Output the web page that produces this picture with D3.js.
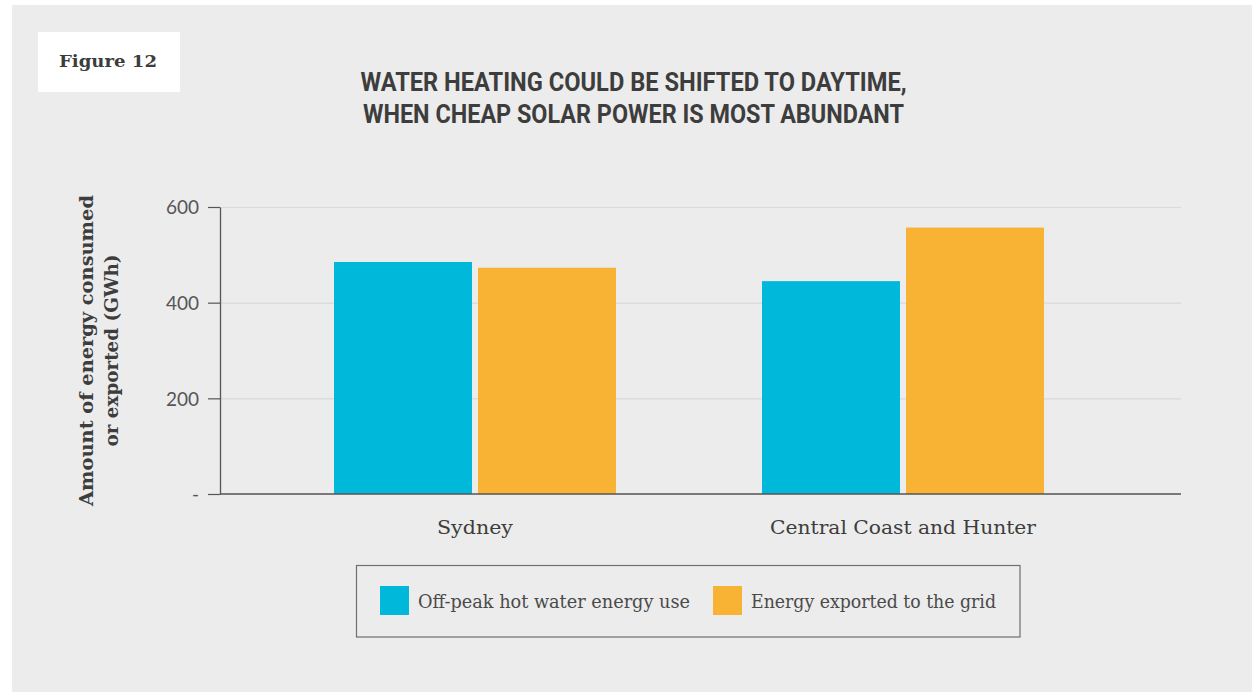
<!DOCTYPE html>
<html>
<head>
<meta charset="utf-8">
<script src="https://cdn.jsdelivr.net/npm/d3@7"></script>
<style>
  html, body { margin: 0; padding: 0; background: #ffffff; }
  svg { display: block; }
</style>
</head>
<body>
<svg id="chart" width="1252" height="692"></svg>
<script>
const categories = ["Sydney", "Central Coast and Hunter"];
const seriesNames = ["Off-peak hot water energy use", "Energy exported to the grid"];
const offPeakUse = [485, 445];
const exportedToGrid = [473, 557];
const yTickValues = [0, 200, 400, 600];
const yTickLabels = ["-", "200", "400", "600"];
const seriesColors = ["#00b8da", "#f8b334"];
const titleLines = ["WATER HEATING COULD BE SHIFTED TO DAYTIME,", "WHEN CHEAP SOLAR POWER IS MOST ABUNDANT"];
const yTitleLines = ["Amount of energy consumed", "or exported (GWh)"];
const figureLabel = "Figure 12";

const seriesValues = [offPeakUse, exportedToGrid];
const svg = d3.select("#chart");
const textColor = "#3d3d3d";

// background panel
svg.append("rect").attr("x", 12).attr("y", 5).attr("width", 1240).attr("height", 687).attr("fill", "#ececec");

// figure label
svg.append("rect").attr("x", 38).attr("y", 32).attr("width", 142).attr("height", 60).attr("fill", "#ffffff");
svg.append("text").attr("x", 59).attr("y", 67)
  .attr("font-family", "'DejaVu Serif', serif").attr("font-weight", "bold").attr("font-size", 16)
  .attr("fill", textColor).attr("textLength", 98).attr("lengthAdjust", "spacingAndGlyphs")
  .text(figureLabel);

// title
svg.append("g").selectAll("text").data(titleLines).join("text")
  .attr("x", 633.5).attr("y", (d, i) => 91 + i * 31.5)
  .attr("text-anchor", "middle")
  .attr("font-family", "Roboto, sans-serif").attr("font-weight", "bold").attr("font-size", 26)
  .attr("fill", textColor)
  .attr("textLength", (d, i) => i === 0 ? 546 : 541).attr("lengthAdjust", "spacingAndGlyphs")
  .text(d => d);

// scales
const plotLeft = 220, plotRight = 1181;
const y = d3.scaleLinear().domain([0, 600]).range([494, 207]);
const x = d3.scaleBand().domain(categories).range([261, 1117]).padding(0);
const xInner = d3.scaleBand().domain(seriesNames).range([0, 282]).paddingInner(6 / 144).paddingOuter(0);

// gridlines
const grid = svg.append("g").attr("transform", `translate(${plotLeft},0)`)
  .call(d3.axisLeft(y).tickValues(yTickValues.filter(v => v > 0)).tickSize(-(plotRight - plotLeft)).tickFormat(""));
grid.select(".domain").remove();
grid.selectAll("line").attr("stroke", "#d9d9d9").attr("stroke-width", 1.2);

// bars
const groups = svg.append("g").selectAll("g").data(categories).join("g")
  .attr("transform", d => `translate(${x(d) + x.bandwidth() / 2 - 141},0)`);
groups.selectAll("rect")
  .data((c, ci) => seriesNames.map((s, si) => ({ s, si, v: seriesValues[si][ci] })))
  .join("rect")
  .attr("x", d => xInner(d.s))
  .attr("width", xInner.bandwidth())
  .attr("y", d => y(d.v))
  .attr("height", d => y(0) - y(d.v))
  .attr("fill", d => seriesColors[d.si]);

// y axis
const yAxis = svg.append("g").attr("transform", `translate(${plotLeft},0)`)
  .call(d3.axisLeft(y).tickValues(yTickValues).tickFormat((d, i) => yTickLabels[i]).tickSize(12).tickSizeOuter(0).tickPadding(9));
yAxis.select(".domain").attr("stroke", "#555").attr("stroke-width", 1.3);
yAxis.selectAll(".tick line").attr("stroke", "#555").attr("stroke-width", 1.2);
yAxis.selectAll(".tick text")
  .attr("font-family", "Lato, 'Open Sans', sans-serif").attr("font-weight", 400).attr("font-size", 19)
  .attr("fill", "#555").attr("dy", "0.36em");

// baseline
svg.append("line").attr("x1", plotLeft).attr("x2", plotRight).attr("y1", y(0)).attr("y2", y(0))
  .attr("stroke", "#555").attr("stroke-width", 1.3);

// x axis labels
const xAxis = svg.append("g").attr("transform", `translate(0,${y(0)})`)
  .call(d3.axisBottom(x).tickSize(0).tickPadding(0));
xAxis.select(".domain").remove();
const catWidths = [76, 266];
xAxis.selectAll(".tick text")
  .attr("y", 40).attr("dy", 0)
  .attr("font-family", "'DejaVu Serif', serif").attr("font-size", 19)
  .attr("fill", textColor)
  .attr("textLength", (d, i) => catWidths[i]).attr("lengthAdjust", "spacingAndGlyphs");

// y title
const yTitle = svg.append("g").attr("transform", "translate(0,350.5) rotate(-90)");
yTitle.selectAll("text").data(yTitleLines).join("text")
  .attr("x", 0).attr("y", (d, i) => 93 + i * 25)
  .attr("text-anchor", "middle")
  .attr("font-family", "'DejaVu Serif', serif").attr("font-weight", "bold").attr("font-size", 18)
  .attr("fill", textColor)
  .attr("textLength", (d, i) => i === 0 ? 311 : 192).attr("lengthAdjust", "spacingAndGlyphs")
  .text(d => d);

// legend
const legend = svg.append("g");
legend.append("rect").attr("x", 356.5).attr("y", 565.5).attr("width", 663.5).attr("height", 71.5)
  .attr("fill", "none").attr("stroke", "#6f6f6f").attr("stroke-width", 1.2);
const legendX = [380, 713];
const legendTextW = [272, 245];
const items = legend.selectAll("g.item").data(seriesNames).join("g").attr("class", "item")
  .attr("transform", (d, i) => `translate(${legendX[i]},586)`);
items.append("rect").attr("width", 29).attr("height", 29).attr("fill", (d, i) => seriesColors[i]);
items.append("text").attr("x", 38).attr("y", 22)
  .attr("font-family", "'DejaVu Serif', serif").attr("font-size", 18)
  .attr("fill", "#4a4a4a")
  .attr("textLength", (d, i) => legendTextW[i]).attr("lengthAdjust", "spacingAndGlyphs")
  .text(d => d);
</script>
</body>
</html>
